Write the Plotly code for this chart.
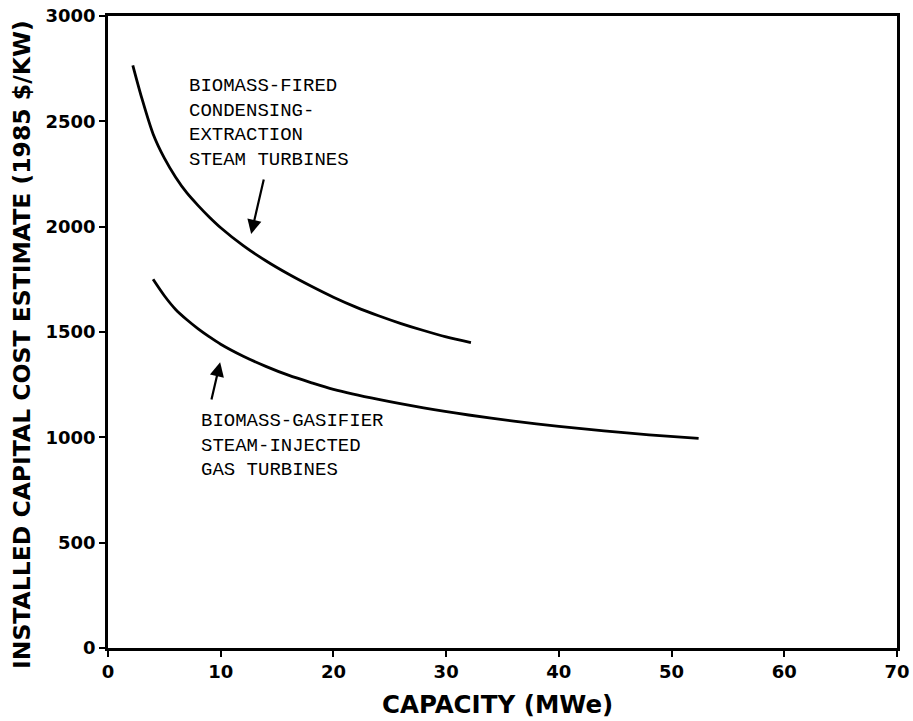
import plotly.graph_objects as go

# Biomass-fired condensing-extraction steam turbines
steam_x = [2.2, 3.0, 4.0, 5.0, 6.0, 7.0, 8.0, 9.0, 10.0, 12.0, 14.0, 16.0, 18.0, 20.0, 22.0, 24.0, 26.0, 28.0, 30.0, 32.2]
steam_y = [2766, 2610, 2440, 2325, 2235, 2160, 2100, 2045, 1995, 1910, 1838, 1775, 1718, 1665, 1618, 1577, 1540, 1507, 1477, 1450]

# Biomass-gasifier steam-injected gas turbines
gas_x = [4.0, 5.0, 6.0, 7.0, 8.0, 9.0, 10.0, 12.0, 14.0, 16.0, 18.0, 20.0, 24.0, 28.0, 32.0, 36.0, 40.0, 44.0, 48.0, 52.4]
gas_y = [1750, 1672, 1607, 1558, 1515, 1477, 1442, 1385, 1337, 1295, 1260, 1228, 1180, 1140, 1106, 1077, 1052, 1031, 1012, 995]

x_ticks = [0, 10, 20, 30, 40, 50, 60, 70]
y_ticks = [0, 500, 1000, 1500, 2000, 2500, 3000]

label_steam = "BIOMASS-FIRED<br>CONDENSING-<br>EXTRACTION<br>STEAM TURBINES"
label_gas = "BIOMASS-GASIFIER<br>STEAM-INJECTED<br>GAS TURBINES"
x_title = "CAPACITY (MWe)"
y_title = "INSTALLED CAPITAL COST ESTIMATE (1985 $/KW)"

fig = go.Figure()
fig.add_trace(go.Scatter(x=steam_x, y=steam_y, mode="lines",
                         line=dict(color="black", width=2.8, shape="spline", smoothing=0.8),
                         showlegend=False))
fig.add_trace(go.Scatter(x=gas_x, y=gas_y, mode="lines",
                         line=dict(color="black", width=2.8, shape="spline", smoothing=0.8),
                         showlegend=False))

mono = dict(family="Liberation Mono", size=19, color="black")
fig.add_annotation(x=7.0, y=2490, xref="x", yref="y", text=label_steam, showarrow=False,
                   xanchor="left", yanchor="middle", align="left", font=mono)
fig.add_annotation(x=8.1, y=960, xref="x", yref="y", text=label_gas, showarrow=False,
                   xanchor="left", yanchor="middle", align="left", font=mono)

# arrows
fig.add_annotation(x=12.7, y=1965, ax=13.85, ay=2231, xref="x", yref="y", axref="x", ayref="y", text="",
                   showarrow=True, arrowhead=2, arrowsize=1.3, arrowwidth=2.2, arrowcolor="black")
fig.add_annotation(x=9.95, y=1357, ax=9.15, ay=1172, xref="x", yref="y", axref="x", ayref="y", text="",
                   showarrow=True, arrowhead=2, arrowsize=1.3, arrowwidth=2.2, arrowcolor="black")

# axis titles as annotations
fig.add_annotation(x=-0.109, y=0.481, xref="paper", yref="paper", text=y_title,
                   textangle=-90, showarrow=False, xanchor="center", yanchor="middle",
                   font=dict(family="DejaVu Sans", size=23.5, color="black", weight="bold"))
fig.add_annotation(x=0.494, y=-0.090, xref="paper", yref="paper", text=x_title,
                   showarrow=False, xanchor="center", yanchor="middle",
                   font=dict(family="DejaVu Sans", size=24.5, color="black", weight="bold"))

fig.update_layout(
    width=913, height=721,
    margin=dict(l=108, r=16, t=16, b=73),
    paper_bgcolor="white", plot_bgcolor="white",
    xaxis=dict(range=[0, 70], tickvals=x_ticks, ticks="outside", ticklen=6, tickwidth=2, tickcolor="black",
               showline=True, linecolor="black", linewidth=2.5, mirror=True, showgrid=False, zeroline=False,
               automargin=False,
               tickfont=dict(family="DejaVu Sans", size=18, color="black", weight="bold")),
    yaxis=dict(range=[0, 3000], tickvals=y_ticks, ticks="outside", ticklen=6, tickwidth=2, tickcolor="black",
               showline=True, linecolor="black", linewidth=2.5, mirror=True, showgrid=False, zeroline=False,
               automargin=False,
               tickfont=dict(family="DejaVu Sans", size=18, color="black", weight="bold")),
)

fig.write_html("out.html")
